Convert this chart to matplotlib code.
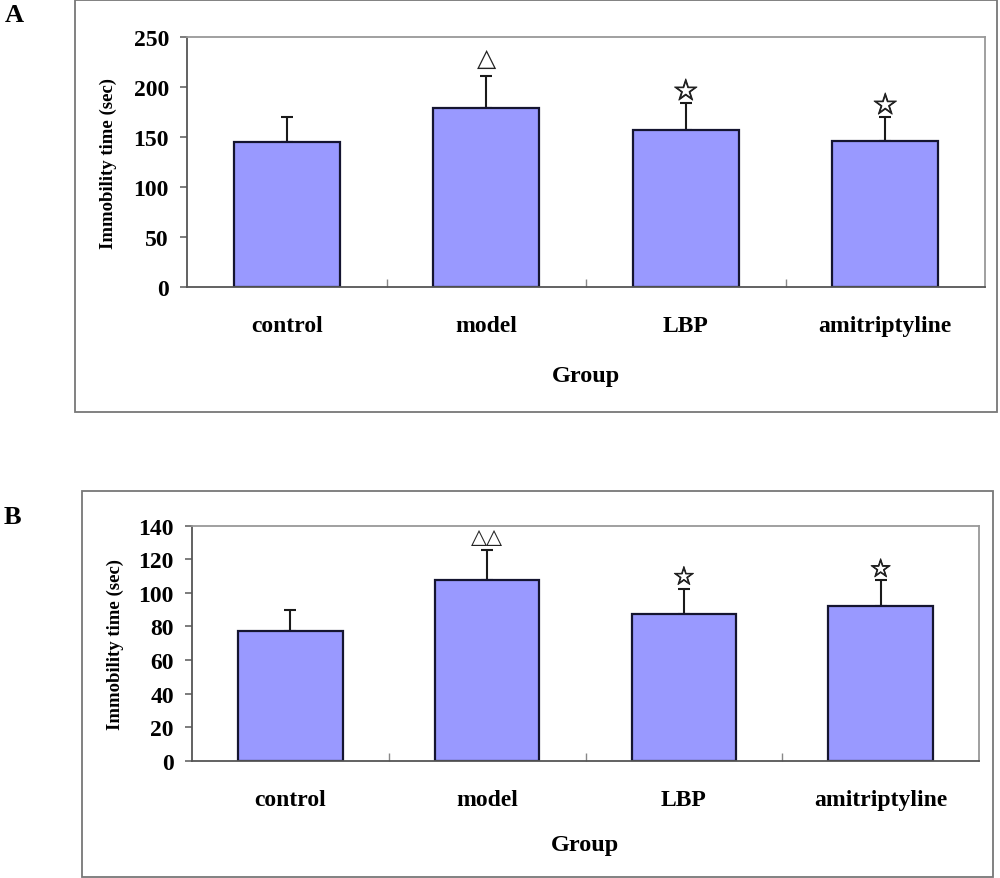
import matplotlib
matplotlib.use('Agg')
import matplotlib.pyplot as plt
import matplotlib.patheffects as pe
from matplotlib.patches import Rectangle
import numpy as np

groups = ['control', 'model', 'LBP', 'amitriptyline']

# panel A
a_mean = [145, 179.5, 157, 146]
a_sd = [25.5, 31.5, 27, 24]
a_marks = ['', '△', '☆', '☆']
a_ticks = [0, 50, 100, 150, 200, 250]

# panel B
b_mean = [77, 107.5, 87.5, 92]
b_sd = [13, 18, 15, 15.5]
b_marks = ['', '△△', '☆', '☆']
b_ticks = [0, 20, 40, 60, 80, 100, 120, 140]

serif = 'Liberation Serif'
bar_color = '#9999ff'


def draw_panel(ax, means, sds, marks, ticks, mark_sizes, mark_pads):
    x = np.arange(len(groups))
    ax.bar(x, means, width=0.53, color=bar_color, edgecolor='#151530',
           linewidth=1.6, zorder=2)
    ax.errorbar(x, means, yerr=[np.zeros(len(sds)), sds], fmt='none',
                ecolor='#1a1a1a', elinewidth=1.5, capsize=4, capthick=1.5,
                zorder=1)
    for i, m in enumerate(marks):
        if not m:
            continue
        # stars look heavier than the triangles in the original
        effects = [pe.withStroke(linewidth=0.7, foreground='#222222')] if '☆' in m else []
        ax.annotate(m, xy=(i, means[i] + sds[i]), xytext=(0, mark_pads[i]),
                    textcoords='offset points', ha='center', va='center',
                    fontsize=mark_sizes[i], family='DejaVu Sans',
                    color='#222222', zorder=3, path_effects=effects)
    ax.set_xlim(-0.5, len(groups) - 0.5)
    ax.set_ylim(ticks[0], ticks[-1])
    ax.set_yticks(ticks)
    ax.set_xticks(x)
    ax.set_xticks(x[:-1] + 0.5, minor=True)
    ax.set_xticklabels(groups)
    ax.tick_params(axis='x', which='major', length=0, pad=20)
    ax.tick_params(axis='x', which='minor', direction='in', length=6,
                   color='#888888', width=1)
    ax.tick_params(axis='y', direction='out', length=5, color='#666666',
                   width=1.2, pad=8)
    for lab in ax.get_xticklabels() + ax.get_yticklabels():
        lab.set_fontfamily(serif)
        lab.set_fontweight('bold')
        lab.set_fontsize(17)
    for s in ['left', 'bottom']:
        ax.spines[s].set_color('#555555')
        ax.spines[s].set_linewidth(1.3)
    for s in ['top', 'right']:
        ax.spines[s].set_color('#999999')
        ax.spines[s].set_linewidth(1.3)
    ax.set_ylabel('Immobility time (sec)', family=serif, fontweight='bold',
                  fontsize=13.5, va='center')
    ax.yaxis.set_label_coords(-0.098, 0.5)
    ax.set_xlabel('Group', family=serif, fontweight='bold', fontsize=17.5,
                  va='center')


fig = plt.figure(figsize=(10, 8.79), dpi=100)

# outer frames
fig.add_artist(Rectangle((0.075, 0.5301), 0.922, 0.4688, transform=fig.transFigure,
                         fill=False, edgecolor='#777777', linewidth=1.3))
fig.add_artist(Rectangle((0.082, 0.0015), 0.911, 0.4388, transform=fig.transFigure,
                         fill=False, edgecolor='#777777', linewidth=1.3))

ax_a = fig.add_axes([0.187, 0.6718, 0.798, 0.285])
draw_panel(ax_a, a_mean, a_sd, a_marks, a_ticks,
           mark_sizes=[0, 18, 21, 21], mark_pads=[0, 13, 8, 8])
ax_a.xaxis.set_label_coords(0.5, -0.35)

ax_b = fig.add_axes([0.192, 0.1331, 0.787, 0.2679])
draw_panel(ax_b, b_mean, b_sd, b_marks, b_ticks,
           mark_sizes=[0, 15, 18, 18], mark_pads=[0, 10, 8, 7.5])
ax_b.xaxis.set_label_coords(0.5, -0.355)

fig.text(0.005, 1 - 16 / 879, 'A', family=serif, fontweight='bold',
         fontsize=19, va='center', ha='left')
fig.text(0.004, 1 - 518 / 879, 'B', family=serif, fontweight='bold',
         fontsize=19, va='center', ha='left')

fig.savefig('out.png', dpi=100)
